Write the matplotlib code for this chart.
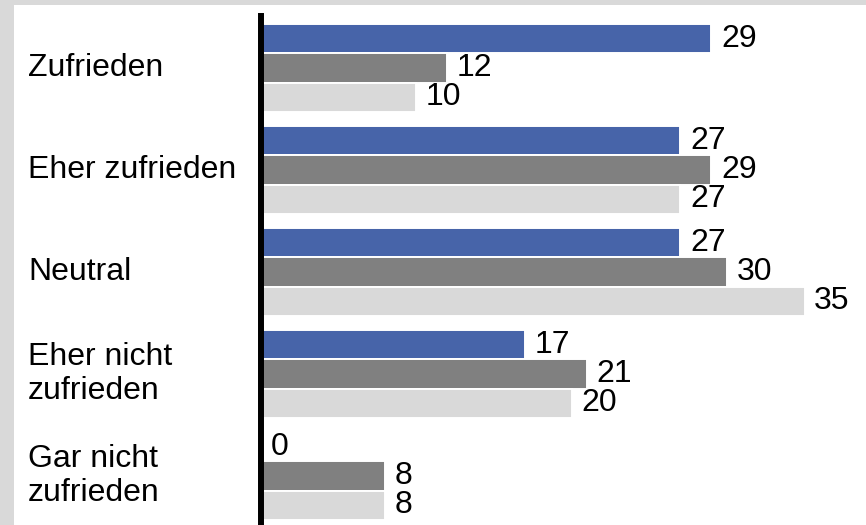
import numpy as np
import matplotlib.pyplot as plt
import matplotlib.transforms as mtransforms

plt.rcParams["font.family"] = ["Liberation Sans", "DejaVu Sans"]

# ---- data ----
categories = ["Zufrieden", "Eher zufrieden", "Neutral",
              "Eher nicht\nzufrieden", "Gar nicht\nzufrieden"]
series_1 = [29, 27, 27, 17, 0]
series_2 = [12, 29, 30, 21, 8]
series_3 = [10, 27, 35, 20, 8]
colors = ["#4764A9", "#808080", "#D9D9D9"]

W, H = 866, 525
fig = plt.figure(figsize=(W / 100, H / 100), dpi=100, facecolor="#D9D9D9")

# white panel on the gray frame
bg = fig.add_axes([14 / W, 0, 1 - 14 / W, (H - 5) / H], zorder=-1)
bg.set_facecolor("white")
bg.set_xticks([])
bg.set_yticks([])
for s in bg.spines.values():
    s.set_visible(False)

x0 = 261
ax = fig.add_axes([x0 / W, 0, 1 - x0 / W, (H - 16) / H])
ax.set_facecolor("none")

y = np.arange(len(categories))
h = 0.2876
for k, (vals, col) in enumerate(zip([series_1, series_2, series_3], colors)):
    pos = y + (k - 1) * h
    ax.barh(pos, vals, height=h, color=col, edgecolor="white", linewidth=1.4)
    for p, v in zip(pos, vals):
        ax.annotate(str(v), (v, p), xytext=(7, 0), textcoords="offset points",
                    va="center", ha="left", fontsize=23)

ax.set_xlim(0, (W - x0) / 15.53)
ax.set_ylim(4.48, -0.51)
ax.set_xticks([])
ax.set_yticks([])
for s in ["top", "right", "bottom"]:
    ax.spines[s].set_visible(False)
ax.spines["left"].set_linewidth(4.3)
ax.spines["left"].set_color("black")
ax.spines["left"].set_zorder(5)

trans = mtransforms.blended_transform_factory(fig.transFigure, ax.transData)
for i, cat in enumerate(categories):
    ax.text(28 / W, i, cat, transform=trans, ha="left", va="center",
            fontsize=23, linespacing=1.2)

fig.savefig("out.png", dpi=100, facecolor=fig.get_facecolor())
